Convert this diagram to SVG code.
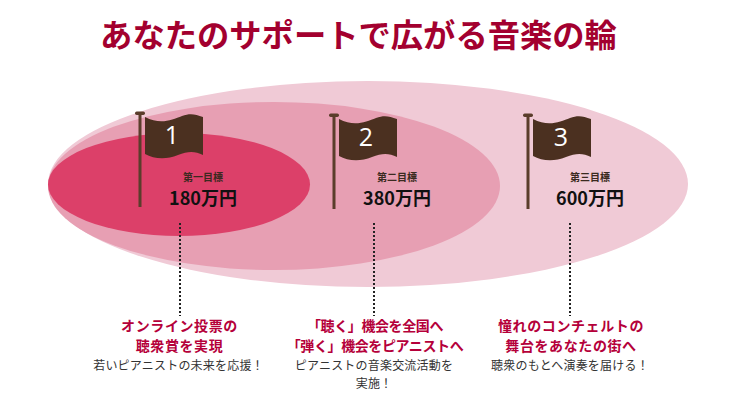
<svg xmlns="http://www.w3.org/2000/svg" xmlns:xlink="http://www.w3.org/1999/xlink" width="736" height="414" viewBox="0 0 736 414">
<style>
text{font-family:"Noto Sans CJK JP","Noto Sans",sans-serif;text-anchor:middle}
.title{font-size:32.300px;font-weight:700;fill:#a3002f}
.num{font-size:25px;fill:#fff;font-family:"Open Sans","Noto Sans",sans-serif}
.goal{font-size:10px;font-weight:700;fill:#3a2a20}
.amt{font-size:18px;font-weight:700;fill:#111}
.head{font-size:14px;font-weight:700;fill:#b5003a;letter-spacing:.6px}
.tight{letter-spacing:-.4px}
.body{font-size:12px;fill:#333;letter-spacing:.2px}
.pole{fill:#5a3d2b}
.flag{fill:#4b3020}
.dot{stroke:#222;stroke-width:2;stroke-dasharray:2 2;fill:none}
</style>
<defs>
<g id="flagshape">
<rect class="pole" x="-1.500" y="0" width="3" height="94"/>
<rect class="pole" x="-5" y="-1.500" width="10" height="3.500" rx="1.700"/>
<path class="flag" d="M5 4C20 12 32 7 42 3C50 0 55 1 63 4V42C55 38 48 38 38 42C26 47 14 46 5 41Z"/>
</g>
</defs>
<rect width="736" height="414" fill="#fff"/>
<text class="title" x="358.500" y="47">あなたのサポートで広がる音楽の輪</text>
<g id="rings">
<ellipse cx="368" cy="184" rx="320" ry="103" fill="#f0cad6"/>
<ellipse cx="274" cy="186" rx="226" ry="84" fill="#e79fb3"/>
<ellipse cx="179" cy="184.500" rx="131" ry="51.500" fill="#dc4069"/>
</g>
<g id="connectors">
<line class="dot" x1="180" y1="223" x2="180" y2="316"/>
<line class="dot" x1="374" y1="223" x2="374" y2="316"/>
<line class="dot" x1="570" y1="223" x2="570" y2="316"/>
</g>
<g id="node-1">
<use xlink:href="#flagshape" href="#flagshape" x="140" y="113"/>
<text class="num" x="172" y="144">1</text>
<text class="goal" x="203" y="181">第一目標</text>
<text class="amt" x="203" y="205">180万円</text>
<text class="head" x="179.500" y="331">オンライン投票の</text>
<text class="head" x="179.500" y="351">聴衆賞を実現</text>
<text class="body" x="178.500" y="370">若いピアニストの未来を応援！</text>
</g>
<g id="node-2">
<use xlink:href="#flagshape" href="#flagshape" x="334" y="115"/>
<text class="num" x="366" y="146">2</text>
<text class="goal" x="397" y="181">第二目標</text>
<text class="amt" x="397" y="205">380万円</text>
<text class="head tight" x="375" y="331">「聴く」機会を全国へ</text>
<text class="head tight" x="375" y="351">「弾く」機会をピアニストへ</text>
<text class="body" x="374" y="370">ピアニストの音楽交流活動を</text>
<text class="body" x="374" y="388">実施！</text>
</g>
<g id="node-3">
<use xlink:href="#flagshape" href="#flagshape" x="528" y="115"/>
<text class="num" x="561" y="146">3</text>
<text class="goal" x="590" y="181">第三目標</text>
<text class="amt" x="590" y="205">600万円</text>
<text class="head" x="571" y="331">憧れのコンチェルトの</text>
<text class="head" x="571" y="351">舞台をあなたの街へ</text>
<text class="body" x="570" y="370">聴衆のもとへ演奏を届ける！</text>
</g>
</svg>
